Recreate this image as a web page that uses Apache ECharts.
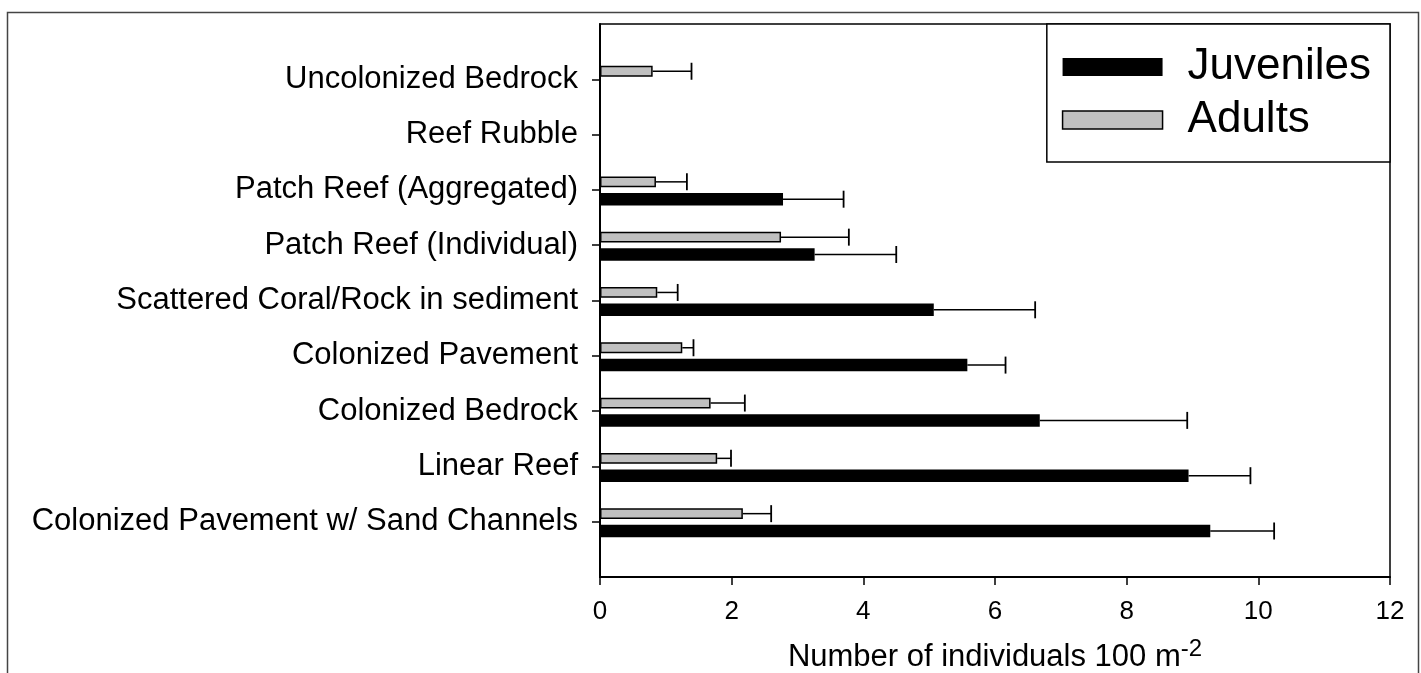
<!DOCTYPE html>
<html>
<head>
<meta charset="utf-8">
<script src="https://cdn.jsdelivr.net/npm/echarts@6/dist/echarts.min.js"></script>
<style>
html,body{margin:0;padding:0;background:#fff;}
#chart{width:1421px;height:673px;}
</style>
</head>
<body>
<div id="chart"></div>
<script>
// Categories listed bottom to top
const categories = [
  'Colonized Pavement w/ Sand Channels',
  'Linear Reef',
  'Colonized Bedrock',
  'Colonized Pavement',
  'Scattered Coral/Rock in sediment',
  'Patch Reef (Individual)',
  'Patch Reef (Aggregated)',
  'Reef Rubble',
  'Uncolonized Bedrock'
];
const juveniles   = [9.27, 8.94, 6.68, 5.58, 5.07, 3.26, 2.78, null, null];
const juvenilesSE = [0.97, 0.94, 2.24, 0.58, 1.54, 1.24, 0.92, null, null];
const adults      = [2.17, 1.78, 1.68, 1.25, 0.87, 2.75, 0.85, null, 0.80];
const adultsSE    = [0.43, 0.21, 0.52, 0.17, 0.31, 1.03, 0.47, null, 0.59];
const xTicks = [0, 2, 4, 6, 8, 10, 12];

const FONT = '"Liberation Sans", Arial, sans-serif';
const GRAY = '#c0c0c0';

function buildData(vals, se) {
  const out = [];
  vals.forEach((v, i) => {
    if (v != null) out.push([v, i + 1, se[i]]);
  });
  return out;
}

function makeRender(kind) {
  return function (params, api) {
    const v = api.value(0), y = api.value(1), se = api.value(2);
    const band = api.size([0, 1])[1];
    const c = api.coord([0, y]);
    const e = api.coord([v, y]);
    const eEnd = api.coord([v + se, y]);
    let top, h;
    if (kind === 'juv') { top = c[1] + 0.055 * band; h = 0.226 * band; }
    else { top = c[1] - 0.243 * band; h = 0.195 * band; }
    const mid = top + h / 2;
    const children = [];
    if (kind === 'juv') {
      children.push({type: 'rect', shape: {x: c[0], y: top, width: e[0] - c[0], height: h},
        style: {fill: '#000'}});
    } else {
      children.push({type: 'rect', shape: {x: c[0] + 0.75, y: top + 0.75, width: e[0] - c[0] - 1.5, height: h - 1.5},
        style: {fill: GRAY, stroke: '#000', lineWidth: 1.5}});
    }
    children.push({type: 'line', shape: {x1: e[0], y1: mid, x2: eEnd[0], y2: mid},
      style: {stroke: '#000', lineWidth: 1.5}});
    children.push({type: 'line', shape: {x1: eEnd[0], y1: mid - 8.5, x2: eEnd[0], y2: mid + 8.5},
      style: {stroke: '#000', lineWidth: 1.8}});
    return {type: 'group', children: children};
  };
}

const chart = echarts.init(document.getElementById('chart'), null, {renderer: 'canvas'});
chart.setOption({
  animation: false,
  backgroundColor: '#fff',
  textStyle: {fontFamily: FONT},
  graphic: [{
    type: 'rect', left: 5, top: 10, z: -1,
    shape: {x: 0, y: 0, width: 1411, height: 690},
    style: {fill: 'none', stroke: '#444', lineWidth: 1.5}
  }],
  grid: {left: 600, top: 24, right: 31, bottom: 96, outerBoundsMode: 'none', containLabel: false,
    show: true, borderColor: '#000', borderWidth: 1.5, backgroundColor: 'transparent'},
  legend: {
    right: 31, top: 24,
    orient: 'vertical',
    icon: 'rect',
    itemWidth: 100, itemHeight: 18,
    itemGap: 9,
    padding: [21, 19, 20, 15],
    borderColor: '#000', borderWidth: 1.5,
    backgroundColor: '#fff',
    textStyle: {fontSize: 44, color: '#000', fontFamily: FONT, padding: [0, 0, 0, 20]},
    data: [
      {name: 'Juveniles', itemStyle: {color: '#000'}},
      {name: 'Adults', itemStyle: {color: GRAY, borderColor: '#000', borderWidth: 1.5}}
    ]
  },
  xAxis: {
    type: 'value', min: 0, max: 12, interval: 2,
    axisLine: {show: true, lineStyle: {color: '#000', width: 2}},
    axisTick: {show: true, length: 8, lineStyle: {color: '#000', width: 1.5}, customValues: xTicks},
    axisLabel: {fontSize: 26, color: '#000', margin: 22, fontFamily: FONT, customValues: xTicks},
    splitLine: {show: false},
    name: '{a|Number of individuals 100 m}{s|-2}',
    nameLocation: 'middle',
    nameGap: 60,
    nameTextStyle: {
      rich: {
        a: {fontSize: 31, color: '#000', fontFamily: FONT, lineHeight: 36, verticalAlign: 'bottom'},
        s: {fontSize: 24, color: '#000', fontFamily: FONT, lineHeight: 36, verticalAlign: 'top', padding: [0, 0, 18, 0]}
      }
    }
  },
  yAxis: {
    type: 'value', min: 0, max: 10, interval: 1,
    axisLine: {show: true, lineStyle: {color: '#000', width: 2}},
    axisTick: {show: true, length: 8, lineStyle: {color: '#000', width: 1.5}, customValues: [1,2,3,4,5,6,7,8,9]},
    axisLabel: {
      fontSize: 31, color: '#000', margin: 22, fontFamily: FONT,
      customValues: [1,2,3,4,5,6,7,8,9],
      formatter: function (val) { return categories[Math.round(val) - 1] || ''; }
    },
    splitLine: {show: false}
  },
  series: [
    {
      name: 'Juveniles', type: 'custom', itemStyle: {color: '#000'},
      encode: {x: 0, y: 1},
      renderItem: makeRender('juv'),
      data: buildData(juveniles, juvenilesSE)
    },
    {
      name: 'Adults', type: 'custom', itemStyle: {color: GRAY},
      encode: {x: 0, y: 1},
      renderItem: makeRender('adu'),
      data: buildData(adults, adultsSE)
    }
  ]
});
</script>
</body>
</html>
